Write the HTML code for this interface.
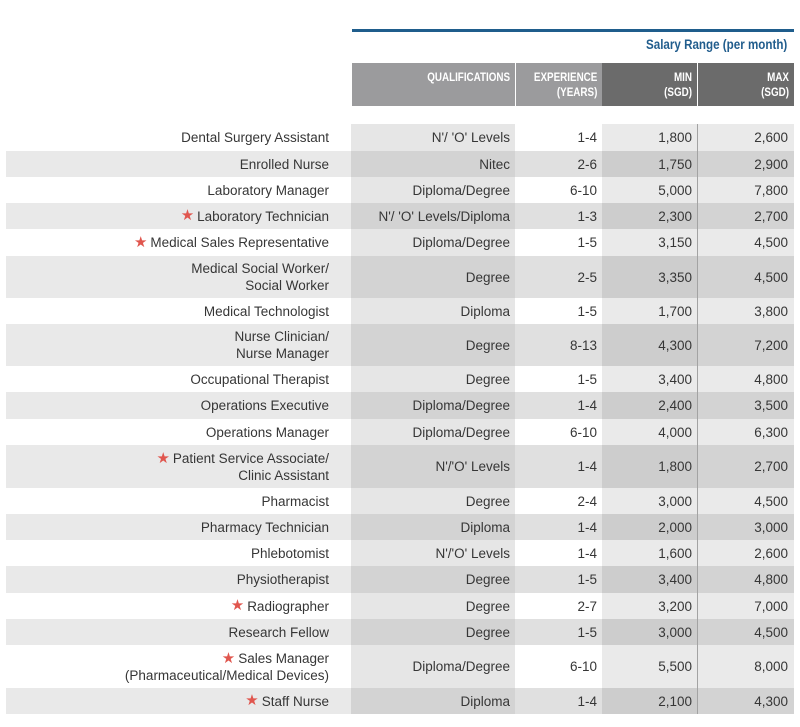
<!DOCTYPE html>
<html><head><meta charset="utf-8">
<style>
*{margin:0;padding:0;box-sizing:border-box}
body{width:800px;height:727px;background:#fff;position:relative;overflow:hidden;font-family:"Liberation Sans",sans-serif;color:#363636}
.abs{position:absolute}
.bl{left:352px;top:29px;width:442px;height:3px;background:#1f5d8c}
.sr{right:13px;top:37px;font-weight:bold;font-size:13.5px;color:#215d8d;transform:scaleX(0.86);transform-origin:right center;white-space:nowrap}
.h{top:63px;height:43px;color:#fff;font-weight:bold;font-size:12px;line-height:15px;text-align:right;padding-top:7px;padding-right:5px}
.h span{display:inline-block;transform:scaleX(0.82);transform-origin:right center}
.row{position:absolute;left:6px;width:788px}
.c{position:absolute;top:0;bottom:0;display:flex;align-items:center;justify-content:flex-end;text-align:right;font-size:13.5px;line-height:17px;white-space:nowrap}
.n{left:0;width:345px;padding-right:22px}
.q{left:345px;width:164px;padding-right:5px}
.e{left:509px;width:87px;padding-right:5px}
.mi{left:596px;width:95px;padding-right:5px}
.ma{left:692px;width:96px;padding-right:6px}
.w .n{background:#fff}.w .q{background:#e6e6e6}.w .e{background:#fff}.w .mi{background:#eaeaea}.w .ma{background:#eaeaea}
.g .n{background:#e9e9e9}.g .q{background:#d3d3d3}.g .e{background:#e0e0e0}.g .mi{background:#cdcdcd}.g .ma{background:#d3d3d3}
.st{color:#e0564e;font-size:15px;margin-right:3px;line-height:14px}
.vl{left:697px;top:124px;width:1px;height:590px;background:#a3a3a3}
</style></head><body>
<div class="abs bl"></div>
<div class="abs sr">Salary Range (per month)</div>
<div class="abs h" style="left:352px;width:163px;background:#9b9b9d"><span>QUALIFICATIONS</span></div>
<div class="abs h" style="left:516px;width:86px;background:#9b9b9d"><span>EXPERIENCE<br>(YEARS)</span></div>
<div class="abs h" style="left:602px;width:95px;background:#6b6b6b"><span>MIN<br>(SGD)</span></div>
<div class="abs h" style="left:698px;width:96px;background:#6b6b6b"><span>MAX<br>(SGD)</span></div>

<div class="row w" style="top:124px;height:27px"><div class="c n">Dental Surgery Assistant</div><div class="c q">N'/ 'O' Levels</div><div class="c e">1-4</div><div class="c mi">1,800</div><div class="c ma">2,600</div></div>
<div class="row g" style="top:151px;height:26px"><div class="c n">Enrolled Nurse</div><div class="c q">Nitec</div><div class="c e">2-6</div><div class="c mi">1,750</div><div class="c ma">2,900</div></div>
<div class="row w" style="top:177px;height:26px"><div class="c n">Laboratory Manager</div><div class="c q">Diploma/Degree</div><div class="c e">6-10</div><div class="c mi">5,000</div><div class="c ma">7,800</div></div>
<div class="row g" style="top:203px;height:26px"><div class="c n"><span class="st">★</span>Laboratory Technician</div><div class="c q">N'/ 'O' Levels/Diploma</div><div class="c e">1-3</div><div class="c mi">2,300</div><div class="c ma">2,700</div></div>
<div class="row w" style="top:229px;height:27px"><div class="c n"><span class="st">★</span>Medical Sales Representative</div><div class="c q">Diploma/Degree</div><div class="c e">1-5</div><div class="c mi">3,150</div><div class="c ma">4,500</div></div>
<div class="row g" style="top:256px;height:42px"><div class="c n">Medical Social Worker/<br>Social Worker</div><div class="c q">Degree</div><div class="c e">2-5</div><div class="c mi">3,350</div><div class="c ma">4,500</div></div>
<div class="row w" style="top:298px;height:26px"><div class="c n">Medical Technologist</div><div class="c q">Diploma</div><div class="c e">1-5</div><div class="c mi">1,700</div><div class="c ma">3,800</div></div>
<div class="row g" style="top:324px;height:42px"><div class="c n">Nurse Clinician/<br>Nurse Manager</div><div class="c q">Degree</div><div class="c e">8-13</div><div class="c mi">4,300</div><div class="c ma">7,200</div></div>
<div class="row w" style="top:366px;height:26px"><div class="c n">Occupational Therapist</div><div class="c q">Degree</div><div class="c e">1-5</div><div class="c mi">3,400</div><div class="c ma">4,800</div></div>
<div class="row g" style="top:392px;height:27px"><div class="c n">Operations Executive</div><div class="c q">Diploma/Degree</div><div class="c e">1-4</div><div class="c mi">2,400</div><div class="c ma">3,500</div></div>
<div class="row w" style="top:419px;height:26px"><div class="c n">Operations Manager</div><div class="c q">Diploma/Degree</div><div class="c e">6-10</div><div class="c mi">4,000</div><div class="c ma">6,300</div></div>
<div class="row g" style="top:445px;height:43px"><div class="c n"><span><span class="st">★</span>Patient Service Associate/<br>Clinic Assistant</span></div><div class="c q">N'/'O' Levels</div><div class="c e">1-4</div><div class="c mi">1,800</div><div class="c ma">2,700</div></div>
<div class="row w" style="top:488px;height:26px"><div class="c n">Pharmacist</div><div class="c q">Degree</div><div class="c e">2-4</div><div class="c mi">3,000</div><div class="c ma">4,500</div></div>
<div class="row g" style="top:514px;height:26px"><div class="c n">Pharmacy Technician</div><div class="c q">Diploma</div><div class="c e">1-4</div><div class="c mi">2,000</div><div class="c ma">3,000</div></div>
<div class="row w" style="top:540px;height:26px"><div class="c n">Phlebotomist</div><div class="c q">N'/'O' Levels</div><div class="c e">1-4</div><div class="c mi">1,600</div><div class="c ma">2,600</div></div>
<div class="row g" style="top:566px;height:27px"><div class="c n">Physiotherapist</div><div class="c q">Degree</div><div class="c e">1-5</div><div class="c mi">3,400</div><div class="c ma">4,800</div></div>
<div class="row w" style="top:593px;height:26px"><div class="c n"><span class="st">★</span>Radiographer</div><div class="c q">Degree</div><div class="c e">2-7</div><div class="c mi">3,200</div><div class="c ma">7,000</div></div>
<div class="row g" style="top:619px;height:26px"><div class="c n">Research Fellow</div><div class="c q">Degree</div><div class="c e">1-5</div><div class="c mi">3,000</div><div class="c ma">4,500</div></div>
<div class="row w" style="top:645px;height:43px"><div class="c n"><span><span class="st">★</span>Sales Manager<br>(Pharmaceutical/Medical Devices)</span></div><div class="c q">Diploma/Degree</div><div class="c e">6-10</div><div class="c mi">5,500</div><div class="c ma">8,000</div></div>
<div class="row g" style="top:688px;height:26px"><div class="c n"><span class="st">★</span>Staff Nurse</div><div class="c q">Diploma</div><div class="c e">1-4</div><div class="c mi">2,100</div><div class="c ma">4,300</div></div>
<div class="abs vl"></div>
</body></html>
